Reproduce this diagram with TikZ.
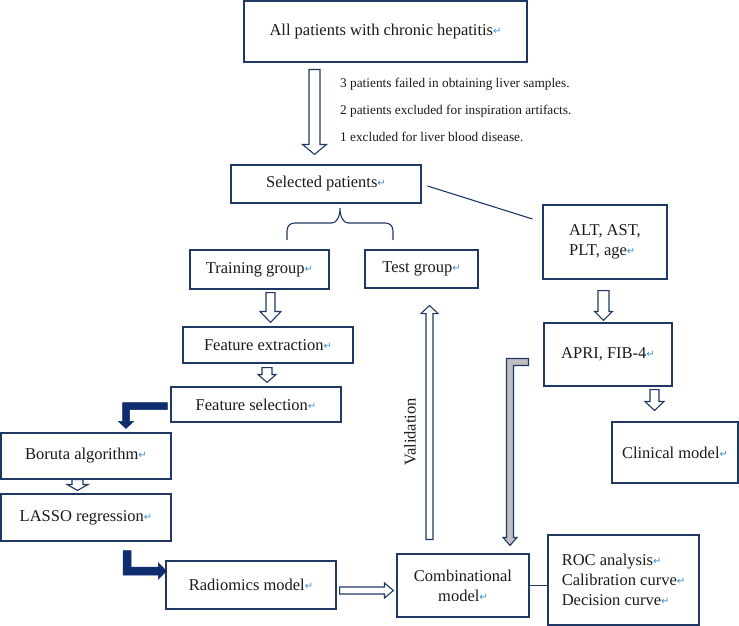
\documentclass[tikz,border=0pt]{standalone}
\usepackage{fontspec}
\setmainfont{Liberation Serif}
\newfontfamily\symfont{DejaVu Sans}
\usetikzlibrary{calc}
\usepackage{xcolor}
\definecolor{Ink}{HTML}{1A1A1A}
\definecolor{BoxLine}{HTML}{1F3864}
\definecolor{Navy}{HTML}{0E2C6E}
\definecolor{Shade}{HTML}{BFBFBF}
\definecolor{RetBlue}{HTML}{3D8FD1}

% paragraph mark as printed after each label
\newcommand{\ret}{\raisebox{1pt}{\symfont\fontsize{10}{10}\selectfont\textcolor{RetBlue}{↵}}}

% block arrows: start, tip, half shaft, half head, head length
\newcommand{\hollowdown}[5]{%
  \draw[hollowarrow] let \p1=#1, \p2=#2 in
    (\x1-#3pt,\y1) -- (\x1+#3pt,\y1) -- (\x1+#3pt,\y2+#5pt) -- (\x1+#4pt,\y2+#5pt)
    -- (\x1,\y2) -- (\x1-#4pt,\y2+#5pt) -- (\x1-#3pt,\y2+#5pt) -- cycle;}
\newcommand{\hollowup}[5]{%
  \draw[hollowarrow] let \p1=#1, \p2=#2 in
    (\x1-#3pt,\y1) -- (\x1+#3pt,\y1) -- (\x1+#3pt,\y2-#5pt) -- (\x1+#4pt,\y2-#5pt)
    -- (\x1,\y2) -- (\x1-#4pt,\y2-#5pt) -- (\x1-#3pt,\y2-#5pt) -- cycle;}
\newcommand{\hollowright}[5]{%
  \draw[hollowarrow] let \p1=#1, \p2=#2 in
    (\x1,\y1+#3pt) -- (\x2-#5pt,\y1+#3pt) -- (\x2-#5pt,\y1+#4pt) -- (\x2,\y1)
    -- (\x2-#5pt,\y1-#4pt) -- (\x2-#5pt,\y1-#3pt) -- (\x1,\y1-#3pt) -- cycle;}
% left then down
\newcommand{\bendarrow}[6]{%
  \draw[#1] let \p1=#2, \p2=#3 in
    (\x1,\y1+#4pt) -- (\x2-#4pt,\y1+#4pt) -- (\x2-#4pt,\y2+#6pt) -- (\x2-#5pt,\y2+#6pt)
    -- (\x2,\y2) -- (\x2+#5pt,\y2+#6pt) -- (\x2+#4pt,\y2+#6pt) -- (\x2+#4pt,\y1-#4pt)
    -- (\x1,\y1-#4pt) -- cycle;}

\begin{document}
\begin{tikzpicture}[x=1pt, y=-1pt,
    box/.style={rectangle, draw=BoxLine, line width=1.1pt, fill=white, align=center, inner sep=2pt, font=\fontsize{16.5}{20}\selectfont, text=Ink},
    notetext/.style={align=left, inner sep=0pt, font=\fontsize{13.3}{27}\selectfont, text=Ink},
    hollowarrow/.style={draw=BoxLine, line width=1.1pt, fill=white, line join=miter},
    thickarrow/.style={draw=Navy, fill=Navy, line width=0.5pt, line join=miter},
    shadedarrow/.style={draw=BoxLine, fill=Shade, line width=1.1pt, line join=miter},
    link/.style={draw=BoxLine, line width=1.1pt}
  ]
  \useasboundingbox (0,0) rectangle (739,626);

  \node[box, minimum width=283pt, minimum height=61pt] (all) at (385.5,31.5) {All patients with chronic hepatitis\ret};
  \node[box, minimum width=190pt, minimum height=38pt] (sel) at (326,184) {Selected patients\ret};
  \node[box, minimum width=124pt, minimum height=74pt, align=left] (alt) at (605,242) {ALT, AST,\\PLT, age\ret};
  \node[box, minimum width=139pt, minimum height=39pt] (train) at (259.5,269.5) {Training group\ret};
  \node[box, minimum width=113pt, minimum height=38pt] (test) at (421.5,269) {Test group\ret};
  \node[box, minimum width=170pt, minimum height=36pt] (fext) at (268,345) {Feature extraction\ret};
  \node[box, minimum width=170pt, minimum height=35pt] (fsel) at (256,404.5) {Feature selection\ret};
  \node[box, minimum width=128pt, minimum height=63pt] (apri) at (608,354.5) {APRI, FIB-4\ret};
  \node[box, minimum width=126pt, minimum height=61pt] (clin) at (675,452.5) {Clinical model\ret};
  \node[box, minimum width=170pt, minimum height=46pt] (boruta) at (86,456) {Boruta algorithm\ret};
  \node[box, minimum width=170pt, minimum height=47pt] (lasso) at (86,517.5) {LASSO regression\ret};
  \node[box, minimum width=170pt, minimum height=48pt] (radio) at (251,585) {Radiomics model\ret};
  \node[box, minimum width=132pt, minimum height=63pt] (comb) at (463,585.5) {Combinational\\model\ret};
  \node[box, minimum width=151pt, minimum height=90pt, align=left] (roc) at (623.5,580) {ROC analysis\ret\\Calibration curve\ret\\Decision curve\ret};

  \node[notetext, anchor=west] (excl) at (340,110) {3 patients failed in obtaining liver samples.\\2 patients excluded for inspiration artifacts.\\1 excluded for liver blood disease.};
  \node[font=\fontsize{16.5}{20}\selectfont, text=Ink, rotate=90] (valid) at (410,432) {Validation};

  % hollow block arrows
  \hollowdown{($(all.south)+(-71,7)$)}{($(sel.north)+(0,-10)$)}{5.5}{12}{10}
  \hollowdown{($(train.south)+(11,3)$)}{($(fext.north)+(0,-4)$)}{4.5}{10.5}{11}
  \hollowdown{($(fext.south)+(-1,4)$)}{($(fsel.north)+(0,-4)$)}{5}{9}{8}
  \hollowdown{($(boruta.south)+(-8.5,0)$)}{($(lasso.north)+(0,-3)$)}{5.5}{10.5}{6}
  \hollowdown{($(alt.south)+(-1.5,11)$)}{($(apri.north)+(0,-2)$)}{5.5}{9}{9}
  \hollowdown{($(apri.south)+(46.5,3)$)}{($(clin.north)+(0,-11)$)}{4.5}{9.5}{9}
  \hollowup{($(comb.north)+(-33.5,-14)$)}{($(test.south)+(0,17)$)}{3.5}{8.5}{8}
  \hollowright{($(radio.east)+(3,5.5)$)}{($(comb.west)+(-3,0)$)}{3.5}{7.5}{9}

  % filled bent arrows
  \bendarrow{thickarrow}{($(fsel.west)+(-3,1.5)$)}{($(boruta.north)+(40,-4)$)}{3.5}{7.5}{7}
  \bendarrow{shadedarrow}{($(apri.west)+(-15,7.5)$)}{($(comb.north)+(47,-8)$)}{3.5}{7}{8}
  \draw[thickarrow] let \p1=($(lasso.south)+(41,9)$), \p2=($(radio.west)+(1,-14)$) in
    (\x1-4pt,\y1) -- (\x1+4pt,\y1) -- (\x1+4pt,\y2+4pt) -- (\x2-8pt,\y2+4pt) -- (\x2-8pt,\y2+8pt)
    -- (\x2,\y2) -- (\x2-8pt,\y2-8pt) -- (\x2-8pt,\y2-4pt) -- (\x1-4pt,\y2-4pt) -- cycle;

  % plain lines and the brace
  \draw[link] ($(sel.east)+(6,2)$) -- ($(alt.west)+(-10,-23)$);
  \draw[link] (comb.east) -- (comb.east -| roc.west);
  \draw[link] (287,240) -- (287,231) .. controls (287,226) and (290,223) .. (295,223) -- (332,223)
    .. controls (337,223) and (340,216) .. (340,208) .. controls (340,216) and (343,223) .. (348,223)
    -- (385,223) .. controls (390,223) and (393,226) .. (393,231) -- (393,240);
\end{tikzpicture}
\end{document}
